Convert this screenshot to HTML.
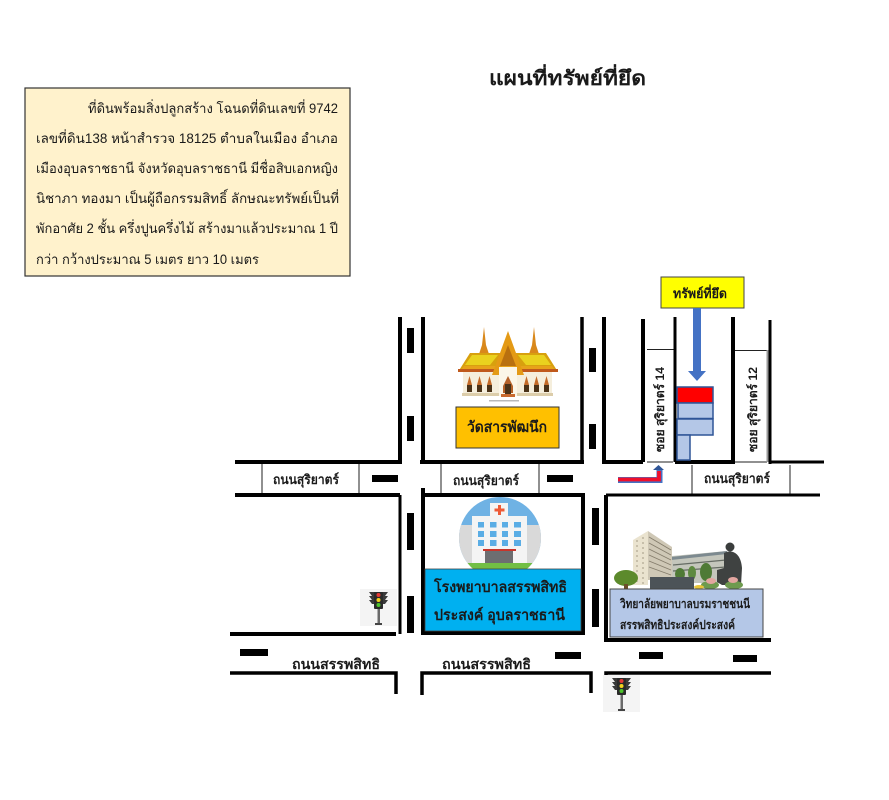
<!DOCTYPE html>
<html lang="th">
<head>
<meta charset="utf-8">
<title>แผนที่ทรัพย์ที่ยึด</title>
<style>
html,body{margin:0;padding:0;background:#fff;width:889px;height:800px;overflow:hidden}
svg{display:block}
text{font-family:"Liberation Sans","Noto Sans CJK SC","DejaVu Sans",sans-serif;fill:#1a1a1a}
.b{font-weight:bold}
.r{stroke:#000;fill:none}
.t{stroke:#222;stroke-width:1;fill:none}
</style>
</head>
<body>
<svg width="889" height="800" viewBox="0 0 889 800" xmlns="http://www.w3.org/2000/svg">
<rect width="889" height="800" fill="#fff"/>

<!-- Title -->
<text x="489" y="85" class="b" font-size="20" textLength="157" lengthAdjust="spacingAndGlyphs">แผนที่ทรัพย์ที่ยึด</text>

<!-- Description box -->
<rect x="25" y="88" width="325" height="188" fill="#FFF2CC" stroke="#333" stroke-width="1.2"/>
<g font-size="13.5">
<text x="88" y="113" textLength="250" lengthAdjust="spacingAndGlyphs">ที่ดินพร้อมสิ่งปลูกสร้าง โฉนดที่ดินเลขที่ 9742</text>
<text x="36" y="143" textLength="302" lengthAdjust="spacingAndGlyphs">เลขที่ดิน138 หน้าสำรวจ 18125 ตำบลในเมือง อำเภอ</text>
<text x="36" y="173" textLength="302" lengthAdjust="spacingAndGlyphs">เมืองอุบลราชธานี จังหวัดอุบลราชธานี มีชื่อสิบเอกหญิง</text>
<text x="36" y="203" textLength="303" lengthAdjust="spacingAndGlyphs">นิชาภา ทองมา เป็นผู้ถือกรรมสิทธิ์ ลักษณะทรัพย์เป็นที่</text>
<text x="36" y="233" textLength="302" lengthAdjust="spacingAndGlyphs">พักอาศัย 2 ชั้น ครึ่งปูนครึ่งไม้ สร้างมาแล้วประมาณ 1 ปี</text>
<text x="36" y="264" textLength="223" lengthAdjust="spacingAndGlyphs">กว่า กว้างประมาณ 5 เมตร ยาว 10 เมตร</text>
</g>

<!-- Thin road label frames -->
<g class="t">
<path d="M262 464V494M359 464V494"/>
<path d="M441 464V494M539 464V494"/>
<path d="M692 465V494M790 465V494"/>
<path d="M647 349.500H675"/>
<path d="M647 462H673"/>
<path d="M735 350.500H767"/>
<path d="M735 462H767"/>
</g>
<path d="M767.500 350V462" stroke="#999" stroke-width="2" fill="none"/>

<!-- Roads: upper section -->
<g class="r" stroke-width="4">
<path d="M235 462H402"/>
<path d="M400 317V463"/>
<path d="M235 495H400" />
<path d="M423 317V462M420 462H584"/>
<path stroke-width="3.500" d="M582 317V462"/>
<path d="M604 317V462H643"/>
<path d="M643 319V462"/>
<path stroke-width="3" d="M675 317V462"/>
<path d="M675 462H735M733 317V462"/>
<path stroke-width="3" d="M770 320V464"/>
<path stroke-width="3" d="M770 462H824"/>
</g>

<!-- Roads: middle section -->
<g class="r" stroke-width="4">
<path stroke-width="3" d="M400 495V634"/>
<path d="M230 634H396"/>
<path d="M423 488V633H583V495H421"/>
<path d="M606 495V640H771"/>
<path stroke-width="3" d="M606 495H820"/>
</g>

<!-- Roads: lower section -->
<g class="r" stroke-width="3.500">
<path d="M230 673H396V694"/>
<path d="M422 695V673H591V693"/>
<path d="M606 695V673H771"/>
</g>

<!-- Lane dashes -->
<g fill="#000">
<rect x="407" y="328" width="7" height="25"/>
<rect x="407" y="416" width="7" height="25"/>
<rect x="589" y="348" width="7" height="24"/>
<rect x="589" y="424" width="7" height="25"/>
<rect x="407" y="513" width="7" height="37"/>
<rect x="407" y="596" width="7" height="37"/>
<rect x="592" y="508" width="7" height="37"/>
<rect x="592" y="589" width="7" height="38"/>
<rect x="372" y="475" width="26" height="7"/>
<rect x="547" y="475" width="26" height="7"/>
<rect x="240" y="649" width="28" height="7"/>
<rect x="555" y="652" width="26" height="7"/>
<rect x="639" y="652" width="24" height="7"/>
<rect x="733" y="655" width="24" height="7"/>
</g>

<!-- Road labels -->
<g class="b" font-size="13">
<text x="273" y="484" textLength="66" lengthAdjust="spacingAndGlyphs">ถนนสุริยาตร์</text>
<text x="453" y="485" textLength="66" lengthAdjust="spacingAndGlyphs">ถนนสุริยาตร์</text>
<text x="704" y="483" textLength="66" lengthAdjust="spacingAndGlyphs">ถนนสุริยาตร์</text>
<text x="292" y="669" font-size="14" textLength="88" lengthAdjust="spacingAndGlyphs">ถนนสรรพสิทธิ</text>
<text x="442" y="669" font-size="14" textLength="89" lengthAdjust="spacingAndGlyphs">ถนนสรรพสิทธิ</text>
</g>

<!-- Soi labels -->
<g class="b" font-size="12">
<text transform="translate(664,452) rotate(-90)" textLength="85" lengthAdjust="spacingAndGlyphs">ซอย สุริยาตร์ 14</text>
<text transform="translate(757,452) rotate(-90)" textLength="85" lengthAdjust="spacingAndGlyphs">ซอย สุริยาตร์ 12</text>
</g>

<!-- Target label -->
<rect x="661" y="277" width="83" height="31" fill="#FFFF00" stroke="#444" stroke-width="1"/>
<text x="673" y="298" class="b" font-size="13" textLength="54" lengthAdjust="spacingAndGlyphs">ทรัพย์ที่ยึด</text>

<!-- Blue arrow -->
<path d="M693 308H701V371H706L697 381L688 371H693Z" fill="#4472C4"/>

<!-- Property blocks -->
<g stroke="#2F5597" stroke-width="1.500">
<rect x="677" y="387" width="36" height="16" fill="#FF0000"/>
<rect x="678" y="403" width="35" height="15.500" fill="#B4C7E7"/>
<rect x="677" y="419" width="36" height="16" fill="#B4C7E7"/>
<rect x="677" y="435" width="13" height="25" fill="#B4C7E7"/>
</g>

<!-- Red turn arrow -->
<path d="M618 480H659.500V470" fill="none" stroke="#4472C4" stroke-width="6"/>
<path d="M618 479.500H659V471" fill="none" stroke="#F0102C" stroke-width="3.800"/>
<path d="M653 470L658.500 465L664 470Z" fill="#2F5597"/>

<!-- Temple illustration -->
<g>
<rect x="463" y="372" width="89" height="22" fill="#F5EEDC"/>
<rect x="462" y="393" width="91" height="3" fill="#DCCDAA"/>
<path d="M484 327L486 345L489 354H479L482 345Z" fill="#D9881B"/>
<path d="M534 327L536 345L539 354H529L532 345Z" fill="#D9881B"/>
<path d="M470 353H546L558 372H458Z" fill="#D8A00E"/>
<path d="M472 355H498L490 365H465Z" fill="#EAD21E"/>
<path d="M518 355H544L551 365H526Z" fill="#EAD21E"/>
<path d="M458 369H558V372H458Z" fill="#C0591C"/>
<path d="M464 366H552L554 369H462Z" fill="#E7A21A"/>
<path d="M508 331L524 375H517L508 350L499 375H492Z" fill="#E49A15"/>
<path d="M508 345L516 366H500Z" fill="#B9700F"/>
<path d="M499 367H517V396H499Z" fill="#FBF6E8"/>
<path d="M508 376L513 386V393H503V386Z" fill="#B5622A"/>
<rect x="505" y="384" width="6" height="10" fill="#4A3218"/>
<rect x="501" y="394" width="14" height="3" fill="#C8692E"/>
<g fill="#4A3218">
<rect x="467" y="385" width="5" height="7"/><rect x="477" y="385" width="5" height="7"/><rect x="487" y="385" width="5" height="7"/>
<rect x="524" y="385" width="5" height="7"/><rect x="534" y="385" width="5" height="7"/><rect x="544" y="385" width="5" height="7"/>
</g>
<g fill="#C36A28">
<path d="M467 385L469.500 376L472 385Z"/><path d="M477 385L479.500 376L482 385Z"/><path d="M487 385L489.500 376L492 385Z"/>
<path d="M524 385L526.500 376L529 385Z"/><path d="M534 385L536.500 376L539 385Z"/><path d="M544 385L546.500 376L549 385Z"/>
</g>
<rect x="489" y="400" width="30" height="1.500" fill="#B9B9B9"/>
</g>

<!-- Temple label -->
<rect x="456" y="407" width="103" height="41" fill="#FFC000" stroke="#333" stroke-width="1"/>
<text x="467" y="432" class="b" font-size="15" textLength="80" lengthAdjust="spacingAndGlyphs">วัดสารพัฒนึก</text>

<!-- Hospital illustration -->
<clipPath id="hc"><circle cx="500" cy="538" r="41"/></clipPath>
<g clip-path="url(#hc)">
<rect x="459" y="497" width="82" height="72" fill="#6FB2E4"/>
<rect x="459" y="525" width="82" height="44" fill="#D9D9D9"/>
<rect x="472" y="516" width="55" height="53" fill="#F4F4F4"/>
<rect x="490" y="503" width="18" height="14" fill="#F4F4F4"/>
<rect x="459" y="563" width="82" height="6" fill="#72BF44"/>
<rect x="485" y="551" width="28" height="12" fill="#6D6E71"/>
<rect x="483" y="549" width="33" height="2" fill="#C8352B"/>
</g>
<path d="M498 505H501V508.500H504.500V511.500H501V515H498V511.500H494.500V508.500H498Z" fill="#EE5A36"/>
<g fill="#5AADE5">
<rect x="478" y="522" width="6" height="5.500"/><rect x="490" y="522" width="6.500" height="5.500"/><rect x="502" y="522" width="6" height="5.500"/><rect x="514" y="522" width="7" height="5.500"/>
<rect x="478" y="531" width="6" height="6"/><rect x="490" y="531" width="6.500" height="6"/><rect x="502" y="531" width="6" height="6"/><rect x="514" y="531" width="7" height="6"/>
<rect x="478" y="540" width="6" height="6"/><rect x="490" y="540" width="6.500" height="6"/><rect x="502" y="540" width="6" height="6"/><rect x="514" y="540" width="7" height="6"/>
</g>

<!-- Hospital label -->
<rect x="425" y="569" width="156" height="62" fill="#00B0F0" stroke="#444" stroke-width="0.800"/>
<g class="b" font-size="15">
<text x="434" y="592" textLength="133" lengthAdjust="spacingAndGlyphs">โรงพยาบาลสรรพสิทธิ</text>
<text x="434" y="620" textLength="131" lengthAdjust="spacingAndGlyphs">ประสงค์ อุบลราชธานี</text>
</g>

<!-- College illustration -->
<path d="M672 556L727 551V583H672Z" fill="#C4C6BC"/>
<path d="M671 557L727 551V554L671 560Z" fill="#7D8A90"/>
<g stroke="#666C64" stroke-width="1.200">
<path d="M673 565L726 560M673 571L726 567"/>
</g>
<path d="M648 531L672 547V580H648Z" fill="#CFC8B6"/>
<path d="M633 540L648 531V585H633Z" fill="#EAE3CF"/>
<g stroke="#857D6C" stroke-width="0.900">
<path d="M649 537L671 550M649 543L671 555M649 549L671 560M649 555L671 565M649 561L671 570M649 567L671 575"/>
</g>
<g stroke="#A49B85" stroke-width="1" stroke-dasharray="2 3">
<path d="M637 540V584M643 537V584"/>
</g>
<ellipse cx="626" cy="578" rx="12" ry="8" fill="#5C8A2C"/>
<rect x="624" y="584" width="4" height="6" fill="#6B4E2A"/>
<ellipse cx="680" cy="574" rx="5" ry="6" fill="#4F7A36"/>
<ellipse cx="692" cy="573" rx="4" ry="7" fill="#5E8A40"/>
<ellipse cx="706" cy="572" rx="6" ry="9" fill="#4F7A36"/>
<rect x="650" y="577" width="44" height="12" fill="#4C5358"/>
<circle cx="730" cy="547" r="4.500" fill="#3A3D3C"/>
<path d="M724 553C732 549 741 553 742 568L741 585H722L717 582V570L724 568Z" fill="#3F4241"/>
<g fill="#6E9A4E">
<ellipse cx="710" cy="585" rx="9" ry="4"/>
<ellipse cx="734" cy="585" rx="9" ry="4"/>
</g>
<g fill="#E3A6A0">
<ellipse cx="711" cy="581" rx="5" ry="3"/>
<ellipse cx="733" cy="580" rx="5" ry="3"/>
</g>
<ellipse cx="699" cy="587" rx="5" ry="2" fill="#E9C63A"/>

<!-- College label -->
<rect x="610" y="589" width="153" height="48" fill="#B4C7E7" stroke="#444" stroke-width="1"/>
<g font-size="12.500" class="b">
<text x="620" y="608" textLength="130" lengthAdjust="spacingAndGlyphs">วิทยาลัยพยาบาลบรมราชชนนี</text>
<text x="620" y="629" textLength="115" lengthAdjust="spacingAndGlyphs">สรรพสิทธิประสงค์ประสงค์</text>
</g>

<!-- Traffic lights -->
<defs>
<g id="tl">
<rect x="0" y="0" width="37" height="37" fill="#F4F4F4"/>
<path d="M9 3H28L25 7H28L25 11H28L25 15H12L9 11H12L9 7H12Z" fill="#3A3A3A"/>
<rect x="14" y="3" width="9" height="17" rx="1" fill="#2A2A2A"/>
<circle cx="18.500" cy="6" r="2" fill="#E53935"/>
<circle cx="18.500" cy="11" r="2" fill="#F2D21F"/>
<circle cx="18.500" cy="16" r="2" fill="#4CC32B"/>
<rect x="17.500" y="20" width="2.500" height="14" fill="#6A6A6A"/>
<rect x="15" y="34" width="7" height="2" fill="#444"/>
</g>
</defs>
<use href="#tl" x="360" y="589"/>
<use href="#tl" x="603" y="675"/>
</svg>
</body>
</html>
